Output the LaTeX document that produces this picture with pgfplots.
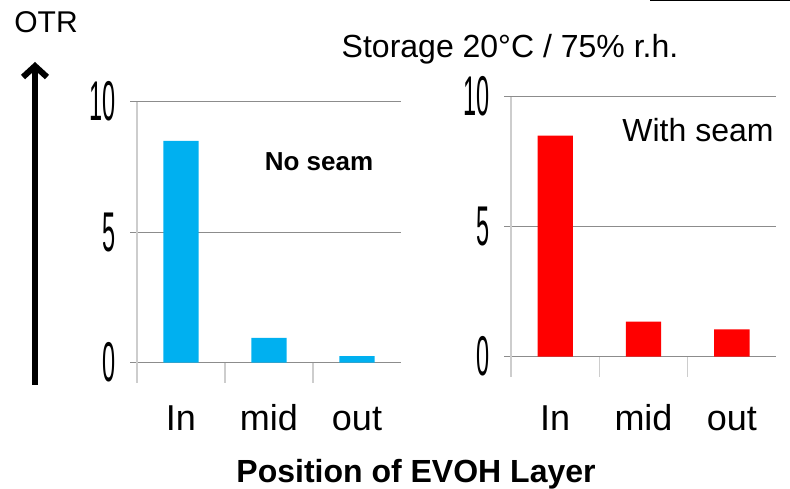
\documentclass[border=0pt]{standalone}
\usepackage{fontspec}
\setmainfont{Liberation Sans}
\usepackage{pgfplots}
\pgfplotsset{compat=1.18}
\usetikzlibrary{arrows.meta}
\definecolor{noseam}{RGB}{0,176,240}
\definecolor{withseam}{RGB}{255,0,0}
\definecolor{gridgray}{RGB}{140,140,140}
\definecolor{axisgray}{RGB}{205,205,205}

\pgfplotsset{evoh/.style={
  scale only axis, anchor=south west,
  xmin=-0.5, xmax=2.5, ymin=0, ymax=10,
  axis x line=bottom, axis y line=left,
  axis line style={-},
  x axis line style={gridgray, line width=1.2pt},
  y axis line style={axisgray, line width=1.2pt},
  xtick={0,1,2}, xticklabels={In,mid,out},
  xtick style={draw=none},
  xticklabel style={font=\fontsize{36}{36}\selectfont, anchor=base, text height=27pt, text depth=0pt},
  ytick={0,5,10},
  ytick style={gridgray, line width=1.2pt},
  tick align=outside,
  major tick length=7pt,
  yticklabel style={font=\fontsize{56}{56}\selectfont, anchor=east, xshift=-13pt, xscale=0.42},
  ymajorgrids, major grid style={gridgray, line width=1.2pt},
  extra x ticks={-0.5,0.5,1.5}, extra x tick labels={},
  extra x tick style={major tick length=20pt, grid=none,
    xtick style={draw=axisgray, line width=1.2pt}},
  /pgf/number format/assume math mode=true,
  ybar, bar width=0.4,
}}

\begin{document}
\begin{tikzpicture}
\path[use as bounding box] (0pt,0pt) rectangle (790pt,489pt);

\begin{axis}[evoh, at={(137pt,126.3pt)}, width=264pt, height=261pt,
  xticklabel style={yshift=-61pt}]
\addplot[draw=none, fill=noseam] coordinates {(0,8.5) (1,0.95) (2,0.25)};
\end{axis}

\begin{axis}[evoh, at={(511pt,132.3pt)}, width=265pt, height=260pt,
  xticklabel style={yshift=-67pt}]
\addplot[draw=none, fill=withseam] coordinates {(0,8.5) (1,1.35) (2,1.05)};
\end{axis}

% OTR arrow
\draw[line width=6pt, -{Straight Barb[length=11pt,width=24pt]}] (35pt,104pt) -- (35pt,427pt);
\node[anchor=base, font=\fontsize{30}{30}\selectfont] at (46pt,456pt) {OTR};
\node[anchor=base, font=\fontsize{32}{32}\selectfont] at (510pt,431pt) {Storage 20°C / 75\% r.h.};
\node[anchor=base, font=\bfseries\fontsize{26}{26}\selectfont] at (319pt,318pt) {No seam};
\node[anchor=base, font=\fontsize{32}{32}\selectfont] at (698pt,347pt) {With seam};
\node[anchor=base, font=\bfseries\fontsize{32}{32}\selectfont] at (416pt,6pt) {Position of EVOH Layer};
\draw[line width=2pt] (650pt,488.5pt) -- (790pt,488.5pt);
\end{tikzpicture}
\end{document}
